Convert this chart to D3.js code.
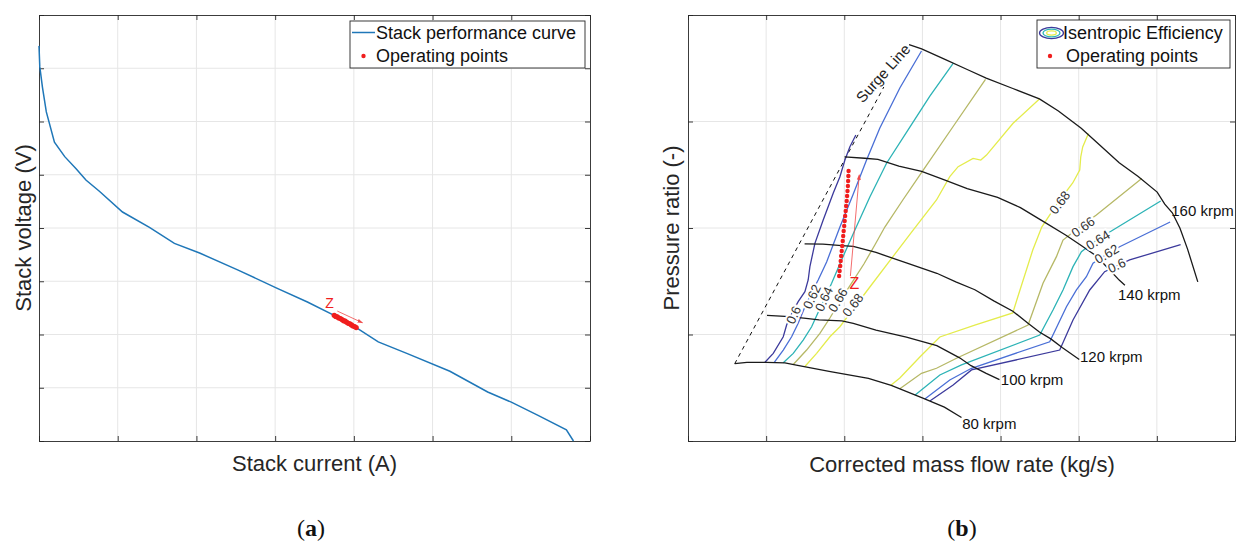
<!DOCTYPE html>
<html>
<head>
<meta charset="utf-8">
<script src="https://cdn.jsdelivr.net/npm/d3@7"></script>
<style>
  body { margin: 0; background: #fff; }
  svg { display: block; font-family: 'Liberation Sans', Arial, Helvetica, sans-serif; }
</style>
</head>
<body>
<div id="chart"></div>
<script>
// ---- (a) stack polarisation curve (axes carry no tick labels, so units are arbitrary)
const stackCurrent = [0, 0.01, 0.044, 0.093, 0.196, 0.327, 0.474, 0.596, 0.767, 1.061, 1.403, 1.72, 2.04,
  2.53, 3.02, 3.41, 3.75, 4.04, 4.31, 4.68, 5.22, 5.70, 6.00, 6.34, 6.70, 6.79];
const stackVoltage = [7.42, 7.03, 6.64, 6.18, 5.61, 5.34, 5.11, 4.90, 4.69, 4.30, 4.01, 3.71, 3.53,
  3.21, 2.87, 2.61, 2.36, 2.12, 1.86, 1.64, 1.31, 0.92, 0.73, 0.48, 0.21, 0.0];
const stackOpCurrent = [3.75, 3.77, 3.79, 3.81, 3.83, 3.85, 3.87, 3.89, 3.91, 3.93, 3.95, 3.97, 3.99, 4.01, 4.03];
const stackOpVoltage = [2.36, 2.34, 2.33, 2.31, 2.30, 2.28, 2.26, 2.25, 2.23, 2.21, 2.20, 2.18, 2.16, 2.15, 2.13];
const stackArrow = [[3.79, 2.44], [4.11, 2.22]];
const stackZ = [3.69, 2.60];

// ---- (b) compressor map
const speedNames = ['80 krpm', '100 krpm', '120 krpm', '140 krpm', '160 krpm'];
const speedFlow = [
  [0.598, 0.754, 0.997, 1.240, 1.386, 1.823, 2.309, 2.601, 2.990, 3.281, 3.500],
  [1.011, 1.240, 1.483, 1.677, 1.969, 2.115, 2.406, 2.795, 3.184, 3.476, 3.622, 3.816, 3.986],
  [1.492, 1.726, 1.969, 2.115, 2.406, 2.795, 3.184, 3.427, 3.671, 3.913, 4.157, 4.351, 4.497, 4.643, 4.788, 5.007],
  [2.003, 2.261, 2.431, 2.698, 2.990, 3.281, 3.573, 3.962, 4.254, 4.545, 4.837, 5.032, 5.226, 5.372, 5.518, 5.591],
  [2.829, 2.990, 3.281, 3.573, 3.816, 4.157, 4.497, 4.740, 5.032, 5.226, 5.518, 5.761, 6.004, 6.101, 6.198, 6.296, 6.393, 6.524],
];
const speedPR = [
  [0.726, 0.739, 0.739, 0.733, 0.713, 0.652, 0.587, 0.522, 0.408, 0.318, 0.220],
  [1.180, 1.170, 1.154, 1.138, 1.128, 1.105, 1.041, 0.976, 0.895, 0.781, 0.707, 0.635, 0.577],
  [1.851, 1.848, 1.835, 1.828, 1.770, 1.673, 1.575, 1.494, 1.420, 1.316, 1.219, 1.105, 1.024, 0.959, 0.878, 0.765],
  [2.668, 2.655, 2.645, 2.580, 2.532, 2.451, 2.370, 2.288, 2.191, 2.062, 1.932, 1.835, 1.737, 1.624, 1.511, 1.462],
  [3.721, 3.682, 3.585, 3.488, 3.407, 3.310, 3.212, 3.099, 2.937, 2.807, 2.613, 2.483, 2.337, 2.224, 2.143, 1.997, 1.802, 1.494],
];
const speedLabelFlow = [3.509, 4.003, 5.017, 5.503, 6.184];
const speedLabelPR = [0.169, 0.573, 0.789, 1.371, 2.169];

const surgeFlow = [0.598, 2.506];
const surgePR = [0.726, 3.324];

const effLevels = [0.6, 0.62, 0.64, 0.66, 0.68];
// contour branch near the surge line
const effLeftFlow = [
  [0.985, 1.091, 1.219, 1.262, 1.330, 1.410, 1.496, 1.538, 1.560, 1.624, 1.730, 1.858, 1.944, 2.008, 2.072, 2.148],
  [1.104, 1.219, 1.326, 1.410, 1.496, 1.586, 1.666, 1.774, 1.944, 2.110, 2.285, 2.455, 2.711, 2.988],
  [1.219, 1.347, 1.474, 1.582, 1.662, 1.752, 1.838, 1.965, 2.136, 2.327, 2.541, 2.839, 3.095, 3.393],
  [1.347, 1.518, 1.688, 1.816, 1.969, 2.110, 2.251, 2.391, 2.519, 2.749, 2.988, 3.393, 3.807],
  [1.496, 1.646, 1.816, 1.944, 2.327, 2.881, 3.180, 3.350, 3.457, 3.648, 3.747, 3.820, 4.160, 4.497],
];
const effLeftPR = [
  [0.739, 0.823, 0.979, 1.089, 1.202, 1.308, 1.402, 1.512, 1.637, 1.856, 2.075, 2.326, 2.482, 2.638, 2.763, 2.873],
  [0.739, 0.854, 0.979, 1.105, 1.258, 1.399, 1.512, 1.681, 2.009, 2.310, 2.638, 2.939, 3.315, 3.662],
  [0.734, 0.823, 0.948, 1.073, 1.202, 1.343, 1.481, 1.700, 1.981, 2.291, 2.608, 2.948, 3.239, 3.546],
  [0.718, 0.854, 1.011, 1.155, 1.343, 1.502, 1.662, 1.840, 2.009, 2.263, 2.519, 2.953, 3.396],
  [0.700, 0.823, 0.979, 1.073, 1.446, 1.981, 2.263, 2.482, 2.576, 2.654, 2.638, 2.685, 2.983, 3.212],
];
// contour branch on the choke side
const effRightFlow = [
  [3.095, 3.393, 3.628, 4.757, 4.927, 5.141, 5.332, 5.486, 5.652, 6.304],
  [3.031, 3.350, 3.628, 4.629, 4.843, 4.971, 5.098, 5.183, 5.345, 5.524, 6.170],
  [2.903, 3.223, 3.500, 4.501, 4.671, 4.799, 4.927, 5.035, 5.230, 5.439, 6.049],
  [2.711, 2.988, 3.180, 3.436, 4.352, 4.543, 4.715, 4.799, 5.013, 5.226, 5.806],
  [2.596, 2.711, 2.967, 3.223, 3.670, 4.156, 4.220, 4.412, 4.527, 4.731, 4.923, 5.013, 5.026, 5.051, 5.124],
];
const effRightPR = [
  [0.375, 0.526, 0.667, 0.854, 1.136, 1.418, 1.590, 1.643, 1.700, 1.845],
  [0.395, 0.573, 0.683, 0.932, 1.261, 1.418, 1.543, 1.669, 1.746, 1.824, 2.056],
  [0.430, 0.620, 0.714, 0.995, 1.230, 1.418, 1.637, 1.777, 1.887, 1.981, 2.254],
  [0.490, 0.636, 0.683, 0.777, 1.089, 1.481, 1.731, 1.887, 2.009, 2.122, 2.465],
  [0.523, 0.592, 0.789, 0.977, 1.089, 1.202, 1.352, 1.793, 2.009, 2.235, 2.423, 2.545, 2.667, 2.761, 2.888],
];
const effLabelLeftFlow = [1.352, 1.586, 1.740, 1.919, 2.110];
const effLabelLeftPR = [1.183, 1.355, 1.333, 1.324, 1.277];
const effLabelRightFlow = [5.486, 5.358, 5.247, 5.055, 4.757];
const effLabelRightPR = [1.648, 1.756, 1.887, 2.009, 2.239];

const compOpFlow = [2.055, 2.052, 2.049, 2.046, 2.041, 2.036, 2.031, 2.024, 2.018, 2.011, 2.005,
  1.999, 1.992, 1.986, 1.980, 1.973, 1.967, 1.960, 1.954, 1.948, 1.940, 1.934];
const compOpPR = [2.535, 2.488, 2.441, 2.394, 2.347, 2.300, 2.254, 2.207, 2.160, 2.113, 2.066,
  2.019, 1.972, 1.925, 1.878, 1.831, 1.784, 1.737, 1.690, 1.643, 1.596, 1.549];
const compArrow = [[2.078, 1.549], [2.192, 2.500]];
const compZ = [2.129, 1.478];
const surgeLabel = [2.494, 3.455];

// ---- drawing
const effColors = ['#3c3a9c', '#4a6fd6', '#2cb3b6', '#b6b866', '#e4ec4c'];
const red = '#f01e1e';

const svg = d3.select('#chart').append('svg')
  .attr('width', 1236)
  .attr('height', 546);

const defs = svg.append('defs');
defs.append('marker')
  .attr('id', 'arrowhead')
  .attr('viewBox', '0 0 10 10')
  .attr('refX', 9)
  .attr('refY', 5)
  .attr('markerWidth', 7)
  .attr('markerHeight', 7)
  .attr('orient', 'auto')
  .append('path')
  .attr('d', 'M0,1.5 L10,5 L0,8.5 Z')
  .attr('fill', '#f04848');

const drawFrame = (g, x, y, nx, ny) => {
  const [x0, x1] = x.range();
  const [y0, y1] = y.range();
  g.append('g')
    .attr('stroke', '#e6e6e6')
    .attr('stroke-width', 1)
    .call((s) => s.selectAll('.gx')
      .data(d3.range(1, nx))
      .join('line')
      .attr('x1', (d) => x(d)).attr('x2', (d) => x(d))
      .attr('y1', y0).attr('y2', y1))
    .call((s) => s.selectAll('.gy')
      .data(d3.range(1, ny))
      .join('line')
      .attr('class', 'gy')
      .attr('y1', (d) => y(d)).attr('y2', (d) => y(d))
      .attr('x1', x0).attr('x2', x1));

  const ax = [
    [d3.axisBottom(x), `translate(0,${y0})`, nx],
    [d3.axisTop(x), `translate(0,${y1})`, nx],
    [d3.axisLeft(y), `translate(${x0},0)`, ny],
    [d3.axisRight(y), `translate(${x1},0)`, ny],
  ];
  ax.forEach(([axis, tr, n]) => {
    const a = g.append('g')
      .attr('transform', tr)
      .call(axis.tickValues(d3.range(0, n + 1)).tickFormat('').tickSizeInner(-5).tickSizeOuter(0));
    a.select('.domain').attr('stroke', '#262626').attr('stroke-width', 0.9);
    a.selectAll('.tick line').attr('stroke', '#262626').attr('stroke-width', 0.9);
  });
};

const labelAngle = (px, py, pts) => {
  let best = Infinity;
  let ang = 0;
  for (let i = 0; i < pts.length - 1; i += 1) {
    const [xa, ya] = pts[i];
    const [xb, yb] = pts[i + 1];
    const dx = xb - xa;
    const dy = yb - ya;
    const t = Math.max(0, Math.min(1, ((px - xa) * dx + (py - ya) * dy) / (dx * dx + dy * dy)));
    const dist = Math.hypot(px - (xa + t * dx), py - (ya + t * dy));
    if (dist < best) { best = dist; ang = (Math.atan2(dy, dx) * 180) / Math.PI; }
  }
  if (ang > 90) ang -= 180;
  if (ang < -90) ang += 180;
  return ang;
};

// ===== panel (a)
const xA = d3.scaleLinear().domain([0, 7]).range([39, 590]);
const yA = d3.scaleLinear().domain([0, 8]).range([441, 15]);
const gA = svg.append('g');
drawFrame(gA, xA, yA, 7, 8);

const lineA = d3.line().x((d) => xA(d[0])).y((d) => yA(d[1]));
gA.append('path')
  .attr('d', lineA(d3.zip(stackCurrent, stackVoltage)))
  .attr('fill', 'none')
  .attr('stroke', '#1f77b8')
  .attr('stroke-width', 1.5);

gA.append('g')
  .selectAll('circle')
  .data(d3.zip(stackOpCurrent, stackOpVoltage))
  .join('circle')
  .attr('cx', (d) => xA(d[0]))
  .attr('cy', (d) => yA(d[1]))
  .attr('r', 2.6)
  .attr('fill', red);

gA.append('line')
  .attr('x1', xA(stackArrow[0][0])).attr('y1', yA(stackArrow[0][1]))
  .attr('x2', xA(stackArrow[1][0])).attr('y2', yA(stackArrow[1][1]))
  .attr('stroke', '#f04848')
  .attr('stroke-width', 0.8)
  .attr('marker-end', 'url(#arrowhead)');
gA.append('text')
  .attr('x', xA(stackZ[0])).attr('y', yA(stackZ[1]))
  .attr('text-anchor', 'middle')
  .attr('dominant-baseline', 'central')
  .attr('font-size', 14)
  .attr('fill', red)
  .text('Z');

const legA = gA.append('g');
legA.append('rect')
  .attr('x', 350).attr('y', 21).attr('width', 235).attr('height', 47)
  .attr('fill', '#fff').attr('stroke', '#262626').attr('stroke-width', 0.9);
legA.append('line')
  .attr('x1', 352).attr('x2', 375).attr('y1', 32.5).attr('y2', 32.5)
  .attr('stroke', '#1f77b8').attr('stroke-width', 1.5);
legA.append('circle').attr('cx', 363.5).attr('cy', 56).attr('r', 2.2).attr('fill', red);
legA.selectAll('text')
  .data(['Stack performance curve', 'Operating points'])
  .join('text')
  .attr('x', 376)
  .attr('y', (d, i) => 33 + i * 23)
  .attr('dominant-baseline', 'central')
  .attr('font-size', 18)
  .attr('fill', '#111')
  .text((d) => d);

gA.append('text')
  .attr('transform', `translate(23,${(15 + 441) / 2}) rotate(-90)`)
  .attr('text-anchor', 'middle')
  .attr('dominant-baseline', 'central')
  .attr('font-size', 22)
  .attr('fill', '#262626')
  .text('Stack voltage (V)');
gA.append('text')
  .attr('x', (39 + 590) / 2).attr('y', 463)
  .attr('text-anchor', 'middle')
  .attr('dominant-baseline', 'central')
  .attr('font-size', 22)
  .attr('fill', '#262626')
  .text('Stack current (A)');

// ===== panel (b)
const xB = d3.scaleLinear().domain([0, 7]).range([688, 1235]);
const yB = d3.scaleLinear().domain([0, 4]).range([441, 15]);
const gB = svg.append('g');
drawFrame(gB, xB, yB, 7, 4);

const lineB = d3.line().x((d) => xB(d[0])).y((d) => yB(d[1]));

gB.append('path')
  .attr('d', lineB(d3.zip(surgeFlow, surgePR)))
  .attr('fill', 'none')
  .attr('stroke', '#111')
  .attr('stroke-width', 1)
  .attr('stroke-dasharray', '4,4');

const contourPx = [];
effLevels.forEach((lev, i) => {
  [[effLeftFlow[i], effLeftPR[i]], [effRightFlow[i], effRightPR[i]]].forEach(([fl, pr]) => {
    gB.append('path')
      .attr('d', lineB(d3.zip(fl, pr)))
      .attr('fill', 'none')
      .attr('stroke', effColors[i])
      .attr('stroke-width', 1.3);
  });
  contourPx.push([
    d3.zip(effLeftFlow[i], effLeftPR[i]).map((d) => [xB(d[0]), yB(d[1])]),
    d3.zip(effRightFlow[i], effRightPR[i]).map((d) => [xB(d[0]), yB(d[1])]),
  ]);
});

speedNames.forEach((name, i) => {
  gB.append('path')
    .attr('d', lineB(d3.zip(speedFlow[i], speedPR[i])))
    .attr('fill', 'none')
    .attr('stroke', '#1a1a1a')
    .attr('stroke-width', 1.3);
  gB.append('text')
    .attr('x', xB(speedLabelFlow[i]))
    .attr('y', yB(speedLabelPR[i]))
    .attr('dominant-baseline', 'central')
    .attr('font-size', 15)
    .attr('fill', '#111')
    .text(name);
});

// clabels with a white halo to cut the contour lines
const clabels = [];
effLevels.forEach((lev, i) => {
  clabels.push([effLabelLeftFlow[i], effLabelLeftPR[i], lev, contourPx[i][0]]);
  clabels.push([effLabelRightFlow[i], effLabelRightPR[i], lev, contourPx[i][1]]);
});
gB.append('g')
  .selectAll('text')
  .data(clabels)
  .join('text')
  .attr('transform', (d) => {
    const px = xB(d[0]);
    const py = yB(d[1]);
    return `translate(${px},${py}) rotate(${labelAngle(px, py, d[3])})`;
  })
  .attr('text-anchor', 'middle')
  .attr('dominant-baseline', 'central')
  .attr('font-size', 13)
  .attr('fill', '#333')
  .attr('stroke', '#fff')
  .attr('stroke-width', 4)
  .attr('paint-order', 'stroke')
  .text((d) => String(d[2]));

gB.append('text')
  .attr('transform', `translate(${xB(surgeLabel[0])},${yB(surgeLabel[1])}) rotate(-48)`)
  .attr('text-anchor', 'middle')
  .attr('dominant-baseline', 'central')
  .attr('font-size', 15)
  .attr('fill', '#222')
  .text('Surge Line');

gB.append('g')
  .selectAll('circle')
  .data(d3.zip(compOpFlow, compOpPR))
  .join('circle')
  .attr('cx', (d) => xB(d[0]))
  .attr('cy', (d) => yB(d[1]))
  .attr('r', 2.2)
  .attr('fill', red);

gB.append('line')
  .attr('x1', xB(compArrow[0][0])).attr('y1', yB(compArrow[0][1]))
  .attr('x2', xB(compArrow[1][0])).attr('y2', yB(compArrow[1][1]))
  .attr('stroke', '#f04848')
  .attr('stroke-width', 0.8)
  .attr('marker-end', 'url(#arrowhead)');
gB.append('text')
  .attr('x', xB(compZ[0])).attr('y', yB(compZ[1]))
  .attr('text-anchor', 'middle')
  .attr('dominant-baseline', 'central')
  .attr('font-size', 16)
  .attr('fill', red)
  .text('Z');

const legB = gB.append('g');
legB.append('rect')
  .attr('x', 1037).attr('y', 20).attr('width', 193).attr('height', 48)
  .attr('fill', '#fff').attr('stroke', '#262626').attr('stroke-width', 0.9);
[[12, 5.6, effColors[0]], [8.5, 3.9, effColors[2]], [4.8, 2.1, effColors[4]]].forEach(([rx, ry, c]) => {
  legB.append('ellipse')
    .attr('cx', 1051.5).attr('cy', 33).attr('rx', rx).attr('ry', ry)
    .attr('fill', 'none').attr('stroke', c).attr('stroke-width', 1.3);
});
legB.append('circle').attr('cx', 1050).attr('cy', 56).attr('r', 2.2).attr('fill', red);
legB.append('text')
  .attr('x', 1063).attr('y', 33)
  .attr('dominant-baseline', 'central')
  .attr('font-size', 18).attr('fill', '#111')
  .text('Isentropic Efficiency');
legB.append('text')
  .attr('x', 1066).attr('y', 56)
  .attr('dominant-baseline', 'central')
  .attr('font-size', 18).attr('fill', '#111')
  .text('Operating points');

gB.append('text')
  .attr('transform', `translate(671,${(15 + 441) / 2}) rotate(-90)`)
  .attr('text-anchor', 'middle')
  .attr('dominant-baseline', 'central')
  .attr('font-size', 22)
  .attr('fill', '#262626')
  .text('Pressure ratio (-)');
gB.append('text')
  .attr('x', 962).attr('y', 464)
  .attr('text-anchor', 'middle')
  .attr('dominant-baseline', 'central')
  .attr('font-size', 22)
  .attr('fill', '#262626')
  .text('Corrected mass flow rate (kg/s)');

// sub-figure captions
[['a', 311], ['b', 962]].forEach(([c, cx]) => {
  const t = svg.append('text')
    .attr('x', cx).attr('y', 528)
    .attr('text-anchor', 'middle')
    .attr('dominant-baseline', 'central')
    .attr('font-family', "'Liberation Serif', 'DejaVu Serif', serif")
    .attr('font-size', 24)
    .attr('fill', '#111');
  t.append('tspan').text('(');
  t.append('tspan').attr('font-weight', 'bold').text(c);
  t.append('tspan').text(')');
});
</script>
</body>
</html>
